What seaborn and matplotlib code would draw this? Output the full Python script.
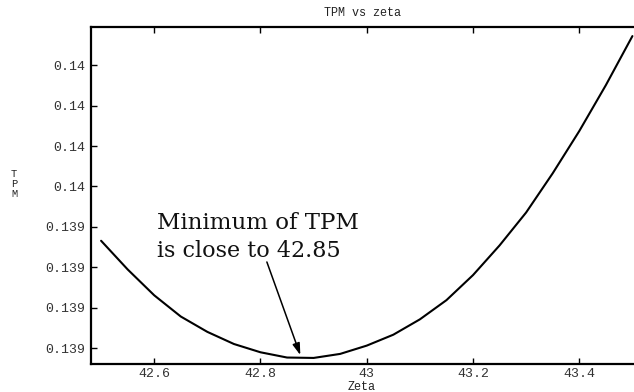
import matplotlib
matplotlib.use("Agg")
import matplotlib.pyplot as plt
import seaborn as sns
import pandas as pd
from matplotlib.ticker import FixedLocator, FormatStrFormatter

zeta = [42.50, 42.55, 42.60, 42.65, 42.70, 42.75, 42.80, 42.85, 42.90, 42.95,
        43.00, 43.05, 43.10, 43.15, 43.20, 43.25, 43.30, 43.35, 43.40, 43.45, 43.50]
tpm = [0.1394831, 0.1394689, 0.1394561, 0.1394456, 0.1394380, 0.1394320,
       0.1394279, 0.1394253, 0.1394251, 0.1394271, 0.1394312, 0.1394366,
       0.1394442, 0.1394537, 0.1394661, 0.1394808, 0.1394971, 0.1395165,
       0.1395374, 0.1395601, 0.1395844]
xticks = [42.6, 42.8, 43.0, 43.2, 43.4]
xticklabels = ["42.6", "42.8", "43", "43.2", "43.4"]
yticks = [0.13943, 0.13945, 0.13947, 0.13949, 0.13951, 0.13953, 0.13955, 0.13957]

df = pd.DataFrame({"Zeta": zeta, "TPM": tpm})

sns.set_style("white")
plt.rcParams["font.family"] = ["Liberation Mono", "DejaVu Sans Mono"]

fig = plt.figure(figsize=(6.34, 3.92), dpi=100)
ax = fig.add_axes([91 / 634, (392 - 364) / 392, (634 - 91) / 634, (364 - 27) / 392])

sns.lineplot(data=df, x="Zeta", y="TPM", ax=ax, color="black", linewidth=1.5)

ax.set_xlim(42.481, 43.503)
ax.set_ylim(0.1394221, 0.1395889)
ax.xaxis.set_major_locator(FixedLocator(xticks))
ax.set_xticklabels(xticklabels)
ax.yaxis.set_major_locator(FixedLocator(yticks))
ax.yaxis.set_major_formatter(FormatStrFormatter("%.3g"))
ax.tick_params(axis="x", direction="in", top=True, bottom=True, length=4, width=1,
               labelsize=9.5, pad=3, colors="black", labelcolor="#333333")
ax.tick_params(axis="y", direction="in", left=True, right=False, length=4, width=1,
               labelsize=9.5, pad=4, colors="black", labelcolor="#333333")

for s in ["top", "bottom", "left"]:
    ax.spines[s].set_visible(True)
    ax.spines[s].set_linewidth(1.6)
    ax.spines[s].set_color("black")
ax.spines["right"].set_visible(False)

ax.set_xlabel("")
ax.set_ylabel("")
ax.set_title("TPM vs zeta", fontsize=8.5, pad=8, color="#222222")
fig.text(362 / 634, 1 - 387 / 392, "Zeta", ha="center", va="center", fontsize=8.5, color="#222222")
fig.text(14 / 634, 1 - 184 / 392, "T\nP\nM", ha="center", va="center", fontsize=7.5,
         color="#222222", linespacing=1.05)

ax.text(42.6056, 0.1394888, "Minimum of TPM", family="DejaVu Serif", fontsize=16.5,
        va="baseline", ha="left", color="#111111")
ax.text(42.6056, 0.1394752, "is close to 42.85", family="DejaVu Serif", fontsize=16,
        va="baseline", ha="left", color="#111111")
ax.annotate("", xy=(42.875, 0.1394265), xytext=(42.812, 0.1394726),
            arrowprops=dict(arrowstyle="-|>,head_length=0.7,head_width=0.22",
                            color="black", lw=1.1, shrinkA=0, shrinkB=0))

fig.savefig("out.png", dpi=100)
